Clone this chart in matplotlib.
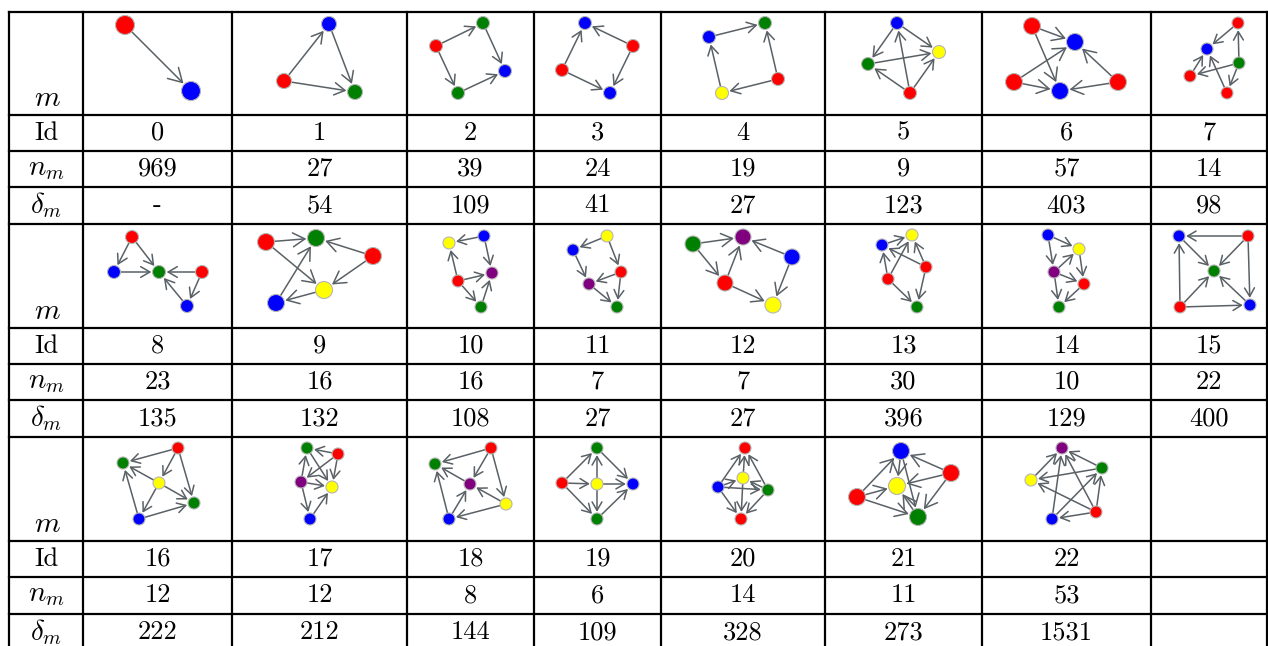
import matplotlib.pyplot as plt
from matplotlib.patches import Circle, FancyArrowPatch

# table values
motif_ids = list(range(23))
n_m = [969, 27, 39, 24, 19, 9, 57, 14,
       23, 16, 16, 7, 7, 30, 10, 22,
       12, 12, 8, 6, 14, 11, 53]
delta_m = ['-', 54, 109, 41, 27, 123, 403, 98,
           135, 132, 108, 27, 27, 396, 129, 400,
           222, 212, 144, 109, 328, 273, 1531]

# motif graphs: node colours (r/g/b/y/p) and directed edges (from, to)
motif_colors = [
    'rb', 'brg', 'rgbg', 'brrb', 'bgry', 'bygr', 'rbrbr', 'rbgrr',
    'rbgrb', 'rgryb', 'byprg', 'ybrpg', 'gpbry', 'ybrrg', 'byprg', 'brgrb',
    'rgygb', 'grpyb', 'rgpyb', 'grybg', 'rybgr', 'bryrg', 'pgyrb',
]
motif_edges = [
    [(0, 1)],
    [(1, 0), (0, 2), (1, 2)],
    [(0, 1), (1, 2), (0, 3), (3, 2)],
    [(2, 0), (1, 0), (2, 3), (1, 3)],
    [(0, 1), (2, 1), (2, 3), (3, 0)],
    [(0, 2), (0, 1), (2, 1), (3, 2), (3, 0), (3, 1)],
    [(0, 1), (0, 3), (2, 1), (2, 3), (4, 1), (4, 3)],
    [(0, 1), (2, 0), (3, 1), (4, 1), (2, 3), (2, 4)],
    [(0, 1), (0, 2), (1, 2), (3, 2), (3, 4), (4, 2)],
    [(0, 1), (2, 1), (4, 1), (0, 3), (2, 3), (3, 4)],
    [(0, 1), (0, 2), (3, 1), (3, 2), (3, 4), (4, 2)],
    [(0, 1), (0, 2), (1, 3), (2, 3), (2, 4), (3, 4)],
    [(0, 1), (2, 1), (0, 3), (3, 1), (2, 4), (3, 4)],
    [(1, 0), (2, 1), (2, 0), (3, 1), (3, 0), (3, 4), (2, 4)],
    [(0, 1), (0, 2), (2, 1), (1, 3), (2, 3), (2, 4), (3, 4)],
    [(1, 0), (0, 2), (1, 2), (1, 4), (3, 0), (3, 2), (3, 4), (4, 2)],
    [(0, 1), (0, 2), (0, 3), (2, 1), (2, 3), (2, 4), (4, 1), (4, 3)],
    [(1, 0), (1, 2), (1, 3), (2, 0), (2, 3), (2, 4), (4, 3), (0, 3)],
    [(0, 1), (0, 2), (0, 3), (2, 1), (3, 2), (3, 4), (4, 2), (4, 1)],
    [(1, 0), (1, 2), (1, 4), (2, 0), (2, 3), (2, 4), (0, 3), (4, 3)],
    [(2, 0), (1, 0), (3, 0), (2, 1), (3, 1), (2, 3), (2, 4), (1, 4), (3, 4)],
    [(3, 0), (3, 2), (3, 4), (1, 0), (1, 2), (1, 4), (0, 2), (0, 4), (4, 2)],
    [(2, 0), (4, 0), (3, 0), (1, 0), (1, 2), (3, 2), (3, 4), (4, 1), (3, 1)],
]

# drawing layout (pixel positions of the nodes in each cell, node radius)
node_xy = [
    [(125, 25), (191, 91)],
    [(329, 24), (284, 81), (355, 92)],
    [(436, 46), (483, 23), (505, 71), (458, 93)],
    [(585, 23), (633, 46), (562, 70), (610, 93)],
    [(709, 37), (765, 23), (778, 79), (722, 93)],
    [(897, 23), (939, 52), (868, 64), (910, 93)],
    [(1032, 26), (1075, 42), (1014, 82), (1060, 91), (1118, 82)],
    [(1238, 23), (1207, 49), (1239, 63), (1190, 76), (1227, 93)],
    [(132, 237), (114, 272), (159, 272), (202, 272), (187, 306)],
    [(266, 242), (316, 238), (373, 256), (324, 290), (276, 303)],
    [(484, 236), (449, 243), (492, 273), (458, 281), (481, 307)],
    [(607, 236), (573, 250), (621, 272), (589, 284), (617, 307)],
    [(693, 244), (743, 237), (792, 257), (725, 283), (773, 305)],
    [(912, 235), (882, 245), (926, 267), (888, 279), (917, 307)],
    [(1048, 235), (1079, 249), (1054, 272), (1084, 284), (1059, 307)],
    [(1179, 236), (1248, 236), (1214, 271), (1180, 307), (1250, 305)],
    [(178, 448), (123, 463), (159, 483), (194, 503), (139, 519)],
    [(307, 448), (338, 454), (301, 482), (332, 487), (310, 519)],
    [(491, 448), (435, 464), (470, 484), (506, 504), (449, 519)],
    [(597, 448), (562, 483), (597, 484), (633, 484), (597, 519)],
    [(745, 448), (743, 478), (718, 487), (768, 490), (741, 519)],
    [(901, 451), (951, 473), (897, 486), (857, 497), (918, 517)],
    [(1062, 448), (1102, 468), (1031, 480), (1096, 512), (1052, 519)],
]
node_r = [9.5, 7.5, 6.5, 6.5, 6.5, 6.5, 8.5, 6,
          6.5, 8.5, 6, 6, 8, 6, 6, 6,
          6, 6, 6, 6, 6, 8.5, 6]

palette = {'r': '#ff0000', 'g': '#008000', 'b': '#0000ff',
           'y': '#ffff00', 'p': '#800080'}

col_x = [9, 83, 232, 407, 534, 661, 825, 982, 1151, 1267]
row_y = [12, 115, 151, 187, 224, 328, 364, 400, 437, 541, 577, 614, 651]

plt.rcParams['mathtext.fontset'] = 'cm'

fig = plt.figure(figsize=(12.68, 6.46), dpi=100)
ax = fig.add_axes([0, 0, 1, 1])
ax.set_xlim(0, 1268)
ax.set_ylim(646, 0)
ax.axis('off')

# grid lines
for x in col_x:
    ax.plot([x, x], [row_y[0], row_y[-1]], color='black', lw=1.6, solid_capstyle='projecting')
for y in row_y:
    ax.plot([col_x[0], col_x[-1]], [y, y], color='black', lw=1.6, solid_capstyle='projecting')

fs = 19
for block in range(3):
    top = block * 4
    # row labels
    ax.text(47, row_y[top + 1] - 17, r'$m$', fontsize=21, ha='center', va='center')
    ax.text(46, (row_y[top + 1] + row_y[top + 2]) / 2, 'Id', family='cmr10',
            fontsize=fs, ha='center', va='center')
    ax.text(46, (row_y[top + 2] + row_y[top + 3]) / 2 - 1, r'$n_m$', fontsize=21,
            ha='center', va='center')
    ax.text(46, (row_y[top + 3] + row_y[top + 4]) / 2, r'$\delta_m$', fontsize=21,
            ha='center', va='center')
    for c in range(8):
        k = block * 8 + c
        if k >= len(motif_ids):
            continue
        cx = (col_x[c + 1] + col_x[c + 2]) / 2
        vals = [motif_ids[k], n_m[k], delta_m[k]]
        for j, v in enumerate(vals):
            cy = (row_y[top + 1 + j] + row_y[top + 2 + j]) / 2
            ax.text(cx, cy, str(v), family='cmr10', fontsize=fs, ha='center', va='center')

# motif graphs
for k in range(len(motif_ids)):
    pts = node_xy[k]
    r = node_r[k]
    ms = 12 * r / 6.5
    for a, b in motif_edges[k]:
        arr = FancyArrowPatch(pts[a], pts[b],
                              arrowstyle='->,head_length=0.55,head_width=0.32',
                              mutation_scale=ms, color='#5a6166', lw=1.1,
                              shrinkA=r * 0.72, shrinkB=r * 0.72 + 0.8, zorder=2)
        ax.add_patch(arr)
    for (x, y), c in zip(pts, motif_colors[k]):
        ax.add_patch(Circle((x, y), r, facecolor=palette[c], edgecolor='#b5b5b5',
                            lw=0.8, zorder=3))

fig.savefig('out.png', dpi=100)
